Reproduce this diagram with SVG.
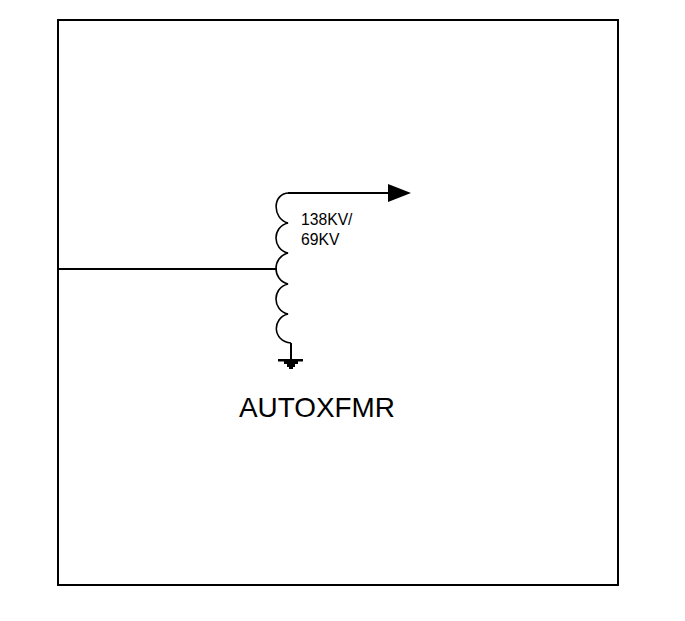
<svg xmlns="http://www.w3.org/2000/svg" width="685" height="621" viewBox="0 0 685 621">
<style>
.l{fill:none;stroke:#000;stroke-width:2}
.c{fill:none;stroke:#000;stroke-width:1.6}
text{font-family:"Liberation Sans",Arial,sans-serif;fill:#000}
</style>
<rect width="685" height="621" fill="#fff"/>
<g id="frame"><rect class="l" x="58" y="20" width="560" height="565"/></g>
<g id="connectors">
<path class="l" d="M58 269H277"/>
<path class="l" d="M288 193H390"/>
<path class="l" d="M291 343V360"/>
</g>
<g id="autotransformer">
<path class="c" d="M289 193C272 193 272 219 288 223C272 227 272 249 288 253C272 257 272 280 288 284C272 288 272 310 288 314C272 318 272 341 291 343"/>
<path d="M388 184L411 193L388 202Z" fill="#000"/>
<path d="M278 359H303V361.500H298V364H295V367H293V369H289V367H287V364H284V361.500H278Z" fill="#000"/>
<text x="301" y="225" font-size="15.700">138KV/</text>
<text x="301" y="245" font-size="15.700">69KV</text>
<text x="239" y="417" font-size="27.900">AUTOXFMR</text>
</g>
</svg>
